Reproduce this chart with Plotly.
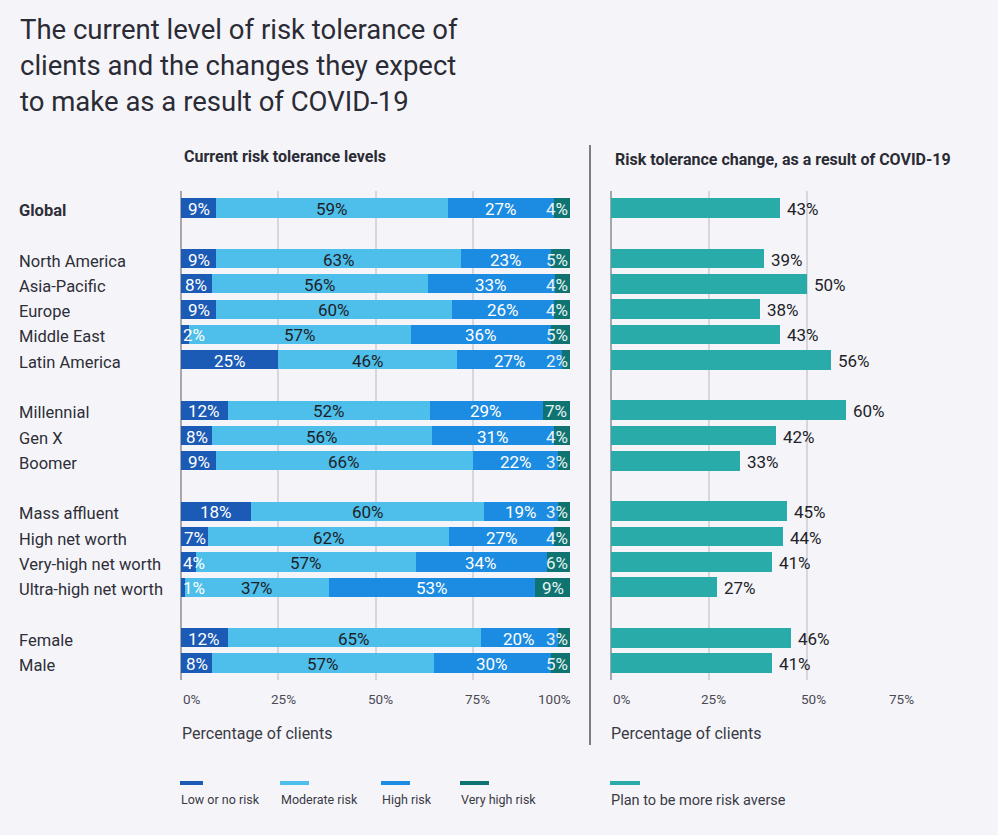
import plotly.graph_objects as go

# ---------------- data ----------------
categories = ["Global", "North America", "Asia-Pacific", "Europe", "Middle East", "Latin America",
              "Millennial", "Gen X", "Boomer", "Mass affluent", "High net worth",
              "Very-high net worth", "Ultra-high net worth", "Female", "Male"]
group_sizes = [1, 5, 3, 4, 2]
bold_categories = ["Global"]

low_risk = [9, 9, 8, 9, 2, 25, 12, 8, 9, 18, 7, 4, 1, 12, 8]
moderate_risk = [59, 63, 56, 60, 57, 46, 52, 56, 66, 60, 62, 57, 37, 65, 57]
high_risk = [27, 23, 33, 26, 36, 27, 29, 31, 22, 19, 27, 34, 53, 20, 30]
very_high_risk = [4, 5, 4, 4, 5, 2, 7, 4, 3, 3, 4, 6, 9, 3, 5]
more_risk_averse = [43, 39, 50, 38, 43, 56, 60, 42, 33, 45, 44, 41, 27, 46, 41]

series_names = ["Low or no risk", "Moderate risk", "High risk", "Very high risk"]
right_series_name = "Plan to be more risk averse"

left_ticks = [0, 25, 50, 75, 100]
right_ticks = [0, 25, 50, 75]

title_text = "The current level of risk tolerance of<br>clients and the changes they expect<br>to make as a result of COVID-19"
left_subtitle = "Current risk tolerance levels"
right_subtitle = "Risk tolerance change, as a result of COVID-19"
axis_title = "Percentage of clients"

# ---------------- style ----------------
W, H = 998, 835
BG = "#F5F5F9"
FONT = "Roboto"
colors = ["#1B5AB5", "#4DBFEA", "#1C8BE2", "#0F7471"]
text_colors = ["#FFFFFF", "#1E1E28", "#FFFFFF", "#E6F3F3"]
right_color = "#28ABA9"
GRID = "#D6D6DC"
TXT = "#2E2E38"
EDGE_THRESH = 6.5   # segments narrower than this get their label pinned to the bar edge
LABEL_SIZE = 17


def px(x):
    return x / W


def py(y):
    return 1 - y / H


# slot positions with one empty slot between groups
ypos = []
s = 0
for g in group_sizes:
    for _ in range(g):
        ypos.append(s)
        s += 1
    s += 1
ymax = ypos[-1]

# normalise each row so the stacked bars fill 100%
series = [low_risk, moderate_risk, high_risk, very_high_risk]
totals = [sum(v) for v in zip(*series)]
norm = [[v / t * 100 for v, t in zip(vals, totals)] for vals in series]

fig = go.Figure()
for name, nvals, col in zip(series_names, norm, colors):
    fig.add_trace(go.Bar(
        name=name, orientation="h", y=ypos, x=nvals,
        marker=dict(color=col, line=dict(width=0)),
        width=0.76, xaxis="x", yaxis="y", showlegend=False, hoverinfo="skip",
    ))

fig.add_trace(go.Bar(
    name=right_series_name, orientation="h", y=ypos, x=more_risk_averse,
    marker=dict(color=right_color, line=dict(width=0)),
    width=0.78, xaxis="x2", yaxis="y", showlegend=False, hoverinfo="skip",
))

fig.update_layout(
    width=W, height=H, autosize=False,
    margin=dict(l=0, r=0, t=0, b=0),
    paper_bgcolor=BG, plot_bgcolor=BG,
    barmode="stack", bargap=0,
    font=dict(family=FONT, color=TXT),
    xaxis=dict(domain=[px(181), px(570)], range=[0, 100], tickvals=left_ticks,
               showticklabels=False, showgrid=True, gridcolor=GRID, gridwidth=1.5,
               zeroline=True, zerolinecolor="#A6A6AE", zerolinewidth=1.5, fixedrange=True),
    xaxis2=dict(domain=[px(611), px(905)], range=[0, 75], tickvals=right_ticks,
                showticklabels=False, showgrid=True, gridcolor=GRID, gridwidth=1.5,
                zeroline=True, zerolinecolor="#A6A6AE", zerolinewidth=1.5,
                anchor="y", fixedrange=True),
    yaxis=dict(domain=[py(680), py(191)], range=[ymax + 0.672, -0.672],
               showticklabels=False, showgrid=False, zeroline=False, fixedrange=True),
)

ann = []
# segment labels (positioned in data coordinates)
n_series = len(series)
for i, yp in enumerate(ypos):
    start = 0.0
    for k in range(n_series):
        wv = norm[k][i]
        lab = f"{series[k][i]}%"
        if k == 0 and wv < EDGE_THRESH:
            xx, anc = start, "left"
        elif k == n_series - 1 and wv < EDGE_THRESH:
            xx, anc = min(start + wv, 100.0), "right"
        else:
            xx, anc = start + wv / 2, "center"
        ann.append(dict(text=lab, xref="x", yref="y", x=round(xx, 6), y=yp + 0.04,
                        xanchor=anc, yanchor="middle", showarrow=False,
                        font=dict(size=LABEL_SIZE, color=text_colors[k], family=FONT)))
        start += wv
    ann.append(dict(text=f"{more_risk_averse[i]}%", xref="x2", yref="y",
                    x=more_risk_averse[i], y=yp + 0.04, xanchor="left", yanchor="middle",
                    xshift=5, showarrow=False,
                    font=dict(size=LABEL_SIZE, color="#222228", family=FONT)))

# title
ann.append(dict(text=title_text, xref="paper", yref="paper", x=px(18), y=py(11),
                xanchor="left", yanchor="top", align="left", showarrow=False,
                font=dict(size=27.5, color="#2B2B35", family=FONT)))
ann.append(dict(text=f"<b>{left_subtitle}</b>", xref="paper", yref="paper", x=px(182), y=py(156),
                xanchor="left", yanchor="middle", showarrow=False,
                font=dict(size=16, color="#2B2B35", family=FONT)))
ann.append(dict(text=f"<b>{right_subtitle}</b>", xref="paper", yref="paper", x=px(613), y=py(160),
                xanchor="left", yanchor="middle", showarrow=False,
                font=dict(size=16, color="#2B2B35", family=FONT)))
# category labels
for cat, yp in zip(categories, ypos):
    t = f"<b>{cat}</b>" if cat in bold_categories else cat
    ann.append(dict(text=t, xref="paper", yref="y", x=px(17), y=yp + 0.1,
                    xanchor="left", yanchor="middle", showarrow=False,
                    font=dict(size=16.5, color=TXT, family=FONT)))
# tick labels
for t in left_ticks:
    if t == left_ticks[0]:
        anchor, sh = "left", 0
    elif t == left_ticks[-1]:
        anchor, sh = "right", 3
    else:
        anchor, sh = "center", 5
    ann.append(dict(text=f"{t}%", xref="x", yref="paper", x=t, y=py(699),
                    xanchor=anchor, yanchor="middle", showarrow=False, xshift=sh,
                    font=dict(size=13.5, color="#4A4A55", family=FONT)))
for t, sh in zip(right_ticks, [0, 4, 6, -4]):
    anchor = "left" if t == right_ticks[0] else "center"
    ann.append(dict(text=f"{t}%", xref="x2", yref="paper", x=t, y=py(699),
                    xanchor=anchor, yanchor="middle", showarrow=False, xshift=sh,
                    font=dict(size=13.5, color="#4A4A55", family=FONT)))
# axis titles
for xx in (180, 609):
    ann.append(dict(text=axis_title, xref="paper", yref="paper", x=px(xx), y=py(733),
                    xanchor="left", yanchor="middle", showarrow=False,
                    font=dict(size=16, color="#3A3A45", family=FONT)))

shapes = []
# separator
shapes.append(dict(type="line", xref="paper", yref="paper", x0=px(590), x1=px(590),
                   y0=py(145), y1=py(745), line=dict(color="#55555F", width=1.5)))
# legend
legend_x = [180, 280, 381, 460]
legend_w = [23, 29, 29, 29]
for name, col, lx, lw in zip(series_names, colors, legend_x, legend_w):
    shapes.append(dict(type="line", xref="paper", yref="paper", x0=px(lx), x1=px(lx + lw),
                       y0=py(783), y1=py(783), line=dict(color=col, width=4)))
    ann.append(dict(text=name, xref="paper", yref="paper", x=px(lx - 1), y=py(799),
                    xanchor="left", yanchor="middle", showarrow=False,
                    font=dict(size=12.5, color="#3A3A45", family=FONT)))
shapes.append(dict(type="line", xref="paper", yref="paper", x0=px(610), x1=px(640),
                   y0=py(783), y1=py(783), line=dict(color=right_color, width=4)))
ann.append(dict(text=right_series_name, xref="paper", yref="paper", x=px(609), y=py(800),
                xanchor="left", yanchor="middle", showarrow=False,
                font=dict(size=14.5, color="#3A3A45", family=FONT)))

fig.update_layout(annotations=ann, shapes=shapes)
fig.write_html("out.html", config={"displayModeBar": False},
               post_script="document.body.style.margin='0px';document.body.style.background='#F5F5F9';")
